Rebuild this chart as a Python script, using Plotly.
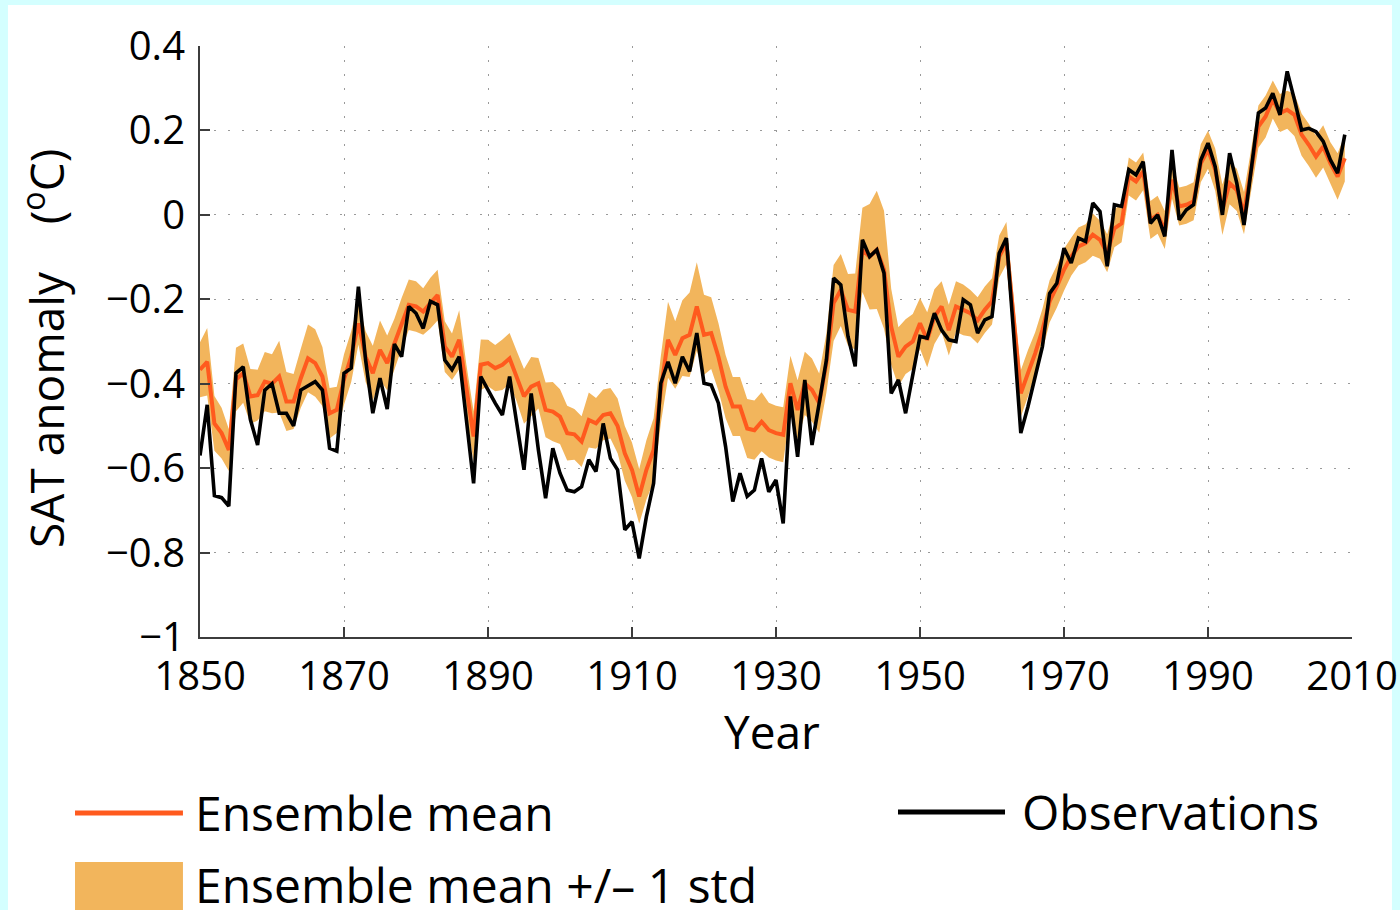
import plotly.graph_objects as go

# Annual global surface air temperature anomaly, 1850-2009
years = list(range(1850, 2010))

observations = [
    -0.570, -0.450, -0.665, -0.670, -0.690, -0.375, -0.360, -0.485, -0.545, -0.415,
    -0.400, -0.470, -0.470, -0.500, -0.415, -0.405, -0.395, -0.415, -0.553, -0.560,
    -0.375, -0.363, -0.170, -0.344, -0.470, -0.387, -0.460, -0.306, -0.336, -0.217,
    -0.233, -0.269, -0.205, -0.213, -0.344, -0.367, -0.336, -0.486, -0.636, -0.383,
    -0.415, -0.446, -0.474, -0.383, -0.494, -0.604, -0.423, -0.557, -0.671, -0.553,
    -0.612, -0.652, -0.656, -0.644, -0.580, -0.608, -0.494, -0.577, -0.604, -0.746,
    -0.727, -0.814, -0.715, -0.636, -0.399, -0.348, -0.399, -0.336, -0.371, -0.280,
    -0.399, -0.403, -0.446, -0.549, -0.679, -0.612, -0.667, -0.652, -0.577, -0.656,
    -0.628, -0.731, -0.430, -0.573, -0.391, -0.545, -0.446, -0.344, -0.150, -0.166,
    -0.288, -0.359, -0.059, -0.099, -0.083, -0.138, -0.423, -0.391, -0.470, -0.383,
    -0.288, -0.292, -0.233, -0.273, -0.296, -0.300, -0.201, -0.213, -0.280, -0.249,
    -0.241, -0.091, -0.055, -0.280, -0.517, -0.454, -0.383, -0.312, -0.186, -0.162,
    -0.079, -0.114, -0.055, -0.063, 0.028, 0.008, -0.122, 0.024, 0.020, 0.107,
    0.095, 0.126, -0.020, 0.000, -0.051, 0.154, -0.012, 0.012, 0.024, 0.130,
    0.170, 0.114, 0.000, 0.146, 0.075, -0.024, 0.107, 0.241, 0.253, 0.288,
    0.237, 0.340, 0.273, 0.201, 0.205, 0.197, 0.174, 0.130, 0.099, 0.190,
]

ensemble_mean = [
    -0.367, -0.348, -0.494, -0.517, -0.557, -0.390, -0.375, -0.430, -0.427, -0.395,
    -0.400, -0.383, -0.442, -0.442, -0.387, -0.340, -0.351, -0.383, -0.470, -0.462,
    -0.390, -0.336, -0.257, -0.336, -0.375, -0.320, -0.351, -0.306, -0.257, -0.213,
    -0.217, -0.229, -0.209, -0.190, -0.312, -0.336, -0.296, -0.415, -0.525, -0.355,
    -0.351, -0.363, -0.355, -0.340, -0.383, -0.430, -0.407, -0.399, -0.462, -0.466,
    -0.478, -0.517, -0.520, -0.537, -0.486, -0.494, -0.474, -0.470, -0.500, -0.565,
    -0.604, -0.667, -0.604, -0.557, -0.415, -0.296, -0.332, -0.292, -0.284, -0.217,
    -0.284, -0.280, -0.336, -0.407, -0.454, -0.454, -0.506, -0.510, -0.490, -0.510,
    -0.517, -0.521, -0.399, -0.462, -0.399, -0.415, -0.446, -0.351, -0.209, -0.178,
    -0.225, -0.229, -0.083, -0.099, -0.083, -0.130, -0.265, -0.336, -0.312, -0.300,
    -0.257, -0.296, -0.241, -0.217, -0.273, -0.217, -0.225, -0.233, -0.250, -0.225,
    -0.205, -0.099, -0.067, -0.249, -0.423, -0.375, -0.328, -0.273, -0.205, -0.170,
    -0.130, -0.099, -0.075, -0.067, -0.047, -0.059, -0.091, -0.032, -0.020, 0.091,
    0.079, 0.103, -0.012, 0.000, -0.036, 0.083, 0.020, 0.024, 0.032, 0.122,
    0.154, 0.107, 0.012, 0.075, 0.059, 0.004, 0.107, 0.209, 0.233, 0.273,
    0.241, 0.249, 0.237, 0.190, 0.166, 0.138, 0.162, 0.122, 0.091, 0.134,
]

ensemble_std = [
    0.065, 0.080, 0.065, 0.060, 0.050, 0.075, 0.070, 0.065, 0.060, 0.070,
    0.070, 0.085, 0.070, 0.065, 0.070, 0.080, 0.080, 0.070, 0.060, 0.055,
    0.060, 0.060, 0.050, 0.060, 0.065, 0.070, 0.065, 0.060, 0.060, 0.060,
    0.060, 0.055, 0.060, 0.060, 0.060, 0.055, 0.070, 0.060, 0.060, 0.060,
    0.055, 0.055, 0.060, 0.060, 0.060, 0.065, 0.070, 0.060, 0.065, 0.070,
    0.065, 0.065, 0.060, 0.060, 0.065, 0.060, 0.060, 0.060, 0.065, 0.065,
    0.065, 0.065, 0.070, 0.075, 0.080, 0.090, 0.080, 0.090, 0.100, 0.105,
    0.095, 0.085, 0.080, 0.075, 0.070, 0.070, 0.070, 0.070, 0.070, 0.065,
    0.065, 0.065, 0.065, 0.070, 0.075, 0.075, 0.070, 0.070, 0.090, 0.085,
    0.085, 0.090, 0.100, 0.125, 0.140, 0.140, 0.090, 0.070, 0.065, 0.065,
    0.060, 0.065, 0.065, 0.060, 0.060, 0.060, 0.060, 0.055, 0.055, 0.055,
    0.055, 0.050, 0.050, 0.050, 0.055, 0.055, 0.050, 0.050, 0.050, 0.050,
    0.050, 0.045, 0.045, 0.045, 0.050, 0.045, 0.045, 0.045, 0.045, 0.045,
    0.045, 0.045, 0.045, 0.045, 0.045, 0.045, 0.045, 0.045, 0.045, 0.045,
    0.045, 0.050, 0.060, 0.050, 0.050, 0.050, 0.050, 0.050, 0.050, 0.045,
    0.045, 0.045, 0.050, 0.050, 0.050, 0.050, 0.050, 0.050, 0.055, 0.055,
]

x_tick_vals = [1850, 1870, 1890, 1910, 1930, 1950, 1970, 1990, 2010]
x_tick_text = ["1850", "1870", "1890", "1910", "1930", "1950", "1970", "1990", "2010"]
y_tick_vals = [-1.0, -0.8, -0.6, -0.4, -0.2, 0.0, 0.2, 0.4]
y_tick_text = ["\u22121", "\u22120.8", "\u22120.6", "\u22120.4", "\u22120.2", "0", "0.2", "0.4"]

MEAN_COLOR = "#FF5A1E"
BAND_COLOR = "#F2B55C"
OBS_COLOR = "#000000"
FONT = "Open Sans"

upper = [m + s for m, s in zip(ensemble_mean, ensemble_std)]
lower = [m - s for m, s in zip(ensemble_mean, ensemble_std)]

fig = go.Figure()

# +/- 1 std envelope
fig.add_trace(go.Scatter(
    x=years, y=upper, mode="lines", line=dict(width=0, color=BAND_COLOR),
    hoverinfo="skip", showlegend=False,
))
fig.add_trace(go.Scatter(
    x=years, y=lower, mode="lines", line=dict(width=0, color=BAND_COLOR),
    fill="tonexty", fillcolor=BAND_COLOR, name="Ensemble mean +/\u2013 1 std",
    showlegend=False,
))
fig.add_trace(go.Scatter(
    x=years, y=ensemble_mean, mode="lines", name="Ensemble mean",
    line=dict(color=MEAN_COLOR, width=4), showlegend=False,
))
fig.add_trace(go.Scatter(
    x=years, y=observations, mode="lines", name="Observations",
    line=dict(color=OBS_COLOR, width=3.6), showlegend=False,
))

axis_common = dict(
    showgrid=True, gridcolor="#9a9a9a", gridwidth=1, griddash="2px,12px",
    zeroline=False, showline=True, linecolor="#3c3c3c", linewidth=2,
    ticks="inside", ticklen=10, tickwidth=1.5, tickcolor="#3c3c3c",
    tickfont=dict(family=FONT, size=40, color="#000000"),
    automargin=False,
)

fig.update_xaxes(
    range=[1850, 2010], tickvals=x_tick_vals, ticktext=x_tick_text,
    ticklabelstandoff=3, **axis_common,
)
fig.update_yaxes(
    range=[-1.0, 0.4], tickvals=y_tick_vals, ticktext=y_tick_text,
    ticklabelstandoff=5, **axis_common,
)

# page background: light cyan frame around a white panel
shapes = [
    dict(type="rect", xref="paper", yref="paper", x0=-0.1667, x1=1.0347,
         y0=-0.55, y1=1.0694, fillcolor="#FFFFFF", line=dict(width=0), layer="below"),
]

# legend keys
shapes += [
    dict(type="line", xref="paper", yref="paper", x0=-0.1085, x1=-0.0148,
         y0=-0.2978, y1=-0.2978, line=dict(color=MEAN_COLOR, width=5)),
    dict(type="line", xref="paper", yref="paper", x0=0.6059, x1=0.6988,
         y0=-0.2961, y1=-0.2961, line=dict(color=OBS_COLOR, width=5)),
    dict(type="rect", xref="paper", yref="paper", x0=-0.1085, x1=-0.0148,
         y0=-0.47, y1=-0.3807, fillcolor=BAND_COLOR, line=dict(width=0)),
]

legend_font = dict(family=FONT, size=48, color="#000000")
annotations = [
    dict(text="Ensemble mean", xref="paper", yref="paper", x=-0.0065, y=-0.2978,
         xanchor="left", yanchor="middle", showarrow=False, font=legend_font),
    dict(text="Observations", xref="paper", yref="paper", x=0.7118, y=-0.2961,
         xanchor="left", yanchor="middle", showarrow=False, font=legend_font),
    dict(text="Ensemble mean +/\u2013 1 std", xref="paper", yref="paper", x=-0.0065,
         y=-0.418, xanchor="left", yanchor="middle", showarrow=False, font=legend_font),
    # axis titles
    dict(text="Year", xref="paper", yref="paper", x=0.4965, y=-0.1590,
         xanchor="center", yanchor="middle", showarrow=False,
         font=dict(family=FONT, size=46, color="#000000")),
    dict(text="SAT anomaly\u00a0\u00a0\u00a0\u00a0(<sup>o</sup>C)", xref="paper", yref="paper",
         x=-0.1355, y=0.489, xanchor="center", yanchor="middle", textangle=-90,
         showarrow=False, font=dict(family=FONT, size=46, color="#000000")),
]

fig.update_layout(
    width=1400, height=910,
    margin=dict(l=200, r=48, t=46, b=273),
    paper_bgcolor="#D4FFFF", plot_bgcolor="#FFFFFF",
    shapes=shapes, annotations=annotations,
    font=dict(family=FONT),
)

fig.write_html("out.html")
